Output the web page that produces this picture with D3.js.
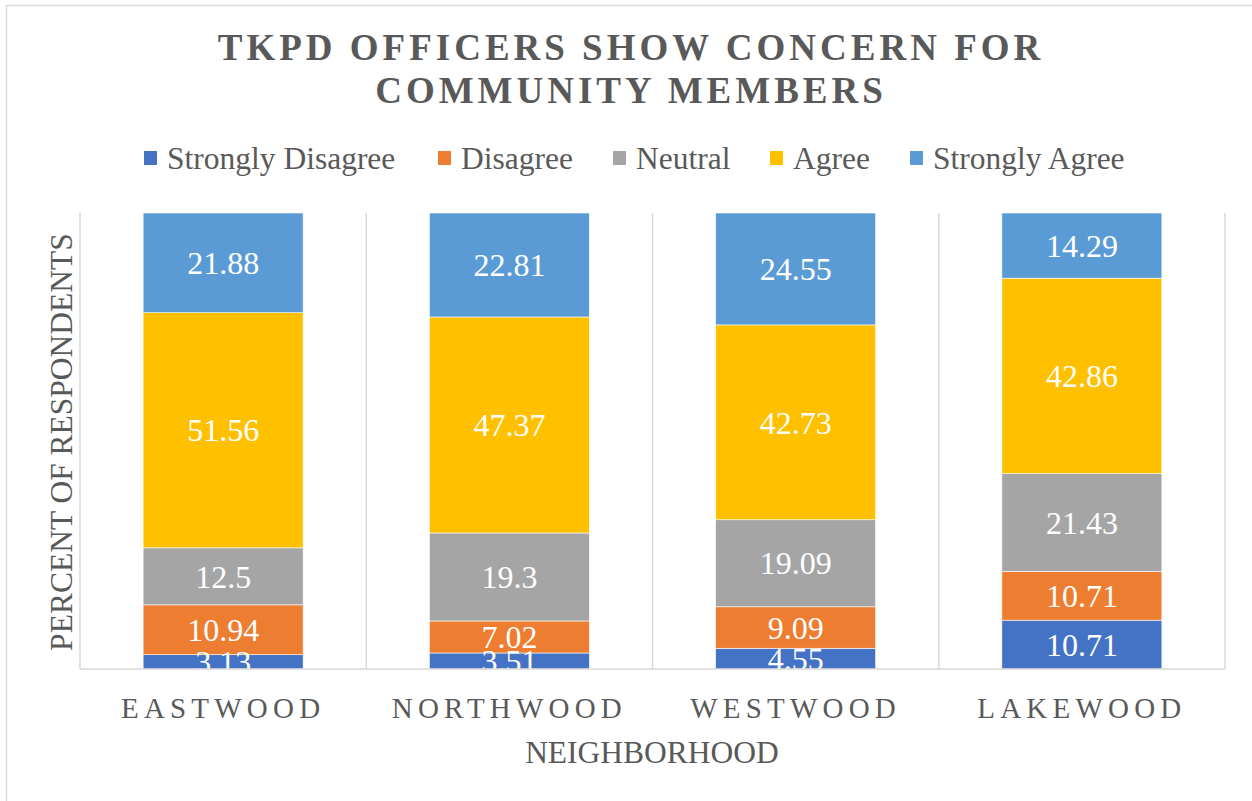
<!DOCTYPE html>
<html>
<head>
<meta charset="utf-8">
<script src="https://cdn.jsdelivr.net/npm/d3@7"></script>
<style>
  html, body { margin: 0; padding: 0; background: #fff; }
  svg { display: block; }
  text { font-family: "Liberation Serif", "Times New Roman", serif; }
</style>
</head>
<body>
<svg id="chart" width="1252" height="801"></svg>
<script>
const categories = ["EASTWOOD", "NORTHWOOD", "WESTWOOD", "LAKEWOOD"];
const seriesNames = ["Strongly Disagree", "Disagree", "Neutral", "Agree", "Strongly Agree"];
const seriesColors = ["#4472C4", "#ED7D31", "#A5A5A5", "#FFC000", "#5B9BD5"];
const stronglyDisagree = [3.13, 3.51, 4.55, 10.71];
const disagree = [10.94, 7.02, 9.09, 10.71];
const neutral = [12.5, 19.3, 19.09, 21.43];
const agree = [51.56, 47.37, 42.73, 42.86];
const stronglyAgree = [21.88, 22.81, 24.55, 14.29];
const yDomain = [0, 100];
const titleLines = ["TKPD OFFICERS SHOW CONCERN FOR", "COMMUNITY MEMBERS"];
const xTitle = "NEIGHBORHOOD";
const yTitle = "PERCENT OF RESPONDENTS";

const seriesValues = [stronglyDisagree, disagree, neutral, agree, stronglyAgree];
const rows = categories.map((c, i) => {
  const r = { cat: c };
  seriesNames.forEach((s, j) => r[s] = seriesValues[j][i]);
  return r;
});

const svg = d3.select("#chart");
const plot = { left: 80, right: 1225, top: 213, bottom: 669 };
const textGray = "#595959";
const serif = "Liberation Serif, Times New Roman, serif";

// chart border
svg.append("rect").attr("x", 6.5).attr("y", 5.5).attr("width", 1400).attr("height", 1000)
  .attr("fill", "#fff").attr("stroke", "#d9d9d9").attr("stroke-width", 1.5);

const x = d3.scaleBand().domain(categories).range([plot.left, plot.right]).padding(0);
const y = d3.scaleLinear().domain(yDomain).range([plot.bottom, plot.top]);
const barW = x.bandwidth() * 0.559;

// vertical gridlines at band boundaries
const bounds = categories.map(c => x(c)).concat([x(categories[categories.length - 1]) + x.bandwidth()]);
svg.append("g").selectAll("line").data(bounds).join("line")
  .attr("x1", d => d).attr("x2", d => d)
  .attr("y1", plot.top).attr("y2", plot.bottom)
  .attr("stroke", "#d9d9d9").attr("stroke-width", 1.5);

// stacked bars
const stack = d3.stack().keys(seriesNames)(rows);
const clipId = "plotclip";
svg.append("defs").append("clipPath").attr("id", clipId)
  .append("rect").attr("x", plot.left).attr("y", plot.top)
  .attr("width", plot.right - plot.left).attr("height", plot.bottom - plot.top);

const gBars = svg.append("g").attr("clip-path", `url(#${clipId})`);
stack.forEach((layer, j) => {
  const g = gBars.append("g").attr("fill", seriesColors[j]);
  g.selectAll("rect").data(layer).join("rect")
    .attr("x", d => x(d.data.cat) + (x.bandwidth() - barW) / 2)
    .attr("width", barW)
    .attr("y", d => y(Math.min(d[1], yDomain[1])))
    .attr("height", d => y(d[0]) - y(Math.min(d[1], yDomain[1])))
    .attr("stroke", "#fff").attr("stroke-width", 0.6);
});
// labels
stack.forEach((layer, j) => {
  gBars.append("g").selectAll("text").data(layer).join("text")
    .attr("x", d => x(d.data.cat) + x.bandwidth() / 2)
    .attr("y", d => (y(d[0]) + y(Math.min(d[1], yDomain[1]))) / 2)
    .attr("dy", "0.35em")
    .attr("text-anchor", "middle")
    .attr("fill", "#fff")
    .attr("font-family", serif)
    .attr("font-size", 32)
    .text(d => String(d.data[seriesNames[j]]));
});

// axis line
svg.append("line").attr("x1", plot.left).attr("x2", plot.right)
  .attr("y1", plot.bottom).attr("y2", plot.bottom)
  .attr("stroke", "#d9d9d9").attr("stroke-width", 1.5);

// x axis labels
const xAxis = d3.axisBottom(x).tickSize(0).tickPadding(0);
const gx = svg.append("g").attr("transform", `translate(0,${plot.bottom})`).call(xAxis);
gx.select(".domain").remove();
gx.selectAll("text")
  .attr("y", 49)
  .attr("dy", 0)
  .attr("font-family", serif)
  .attr("font-size", 29)
  .attr("letter-spacing", "5.2px")
  .attr("fill", textGray);

// axis titles
svg.append("text").attr("x", 652).attr("y", 763)
  .attr("text-anchor", "middle").attr("font-family", serif).attr("font-size", 31.5)
  .attr("fill", textGray).text(xTitle);
svg.append("text").attr("transform", `translate(72,${(232 + 652) / 2}) rotate(-90)`)
  .attr("text-anchor", "middle").attr("font-family", serif).attr("font-size", 31.5)
  .attr("fill", textGray).text(yTitle);

// title
svg.append("g").selectAll("text").data(titleLines).join("text")
  .attr("x", 631).attr("y", (d, i) => 60 + i * 43)
  .attr("text-anchor", "middle").attr("font-family", serif).attr("font-size", 37).attr("font-weight", "bold")
  .attr("letter-spacing", "4px").attr("fill", textGray).text(d => d);

// legend
const legendX = [144, 438, 613, 770, 910];
const lg = svg.append("g").selectAll("g").data(seriesNames).join("g")
  .attr("transform", (d, i) => `translate(${legendX[i]},158)`);
lg.append("rect").attr("x", 0).attr("y", -7).attr("width", 13).attr("height", 14)
  .attr("fill", (d, i) => seriesColors[i]);
lg.append("text").attr("x", 23).attr("dy", "0.35em").attr("font-family", serif).attr("font-size", 31.5)
  .attr("fill", textGray).text(d => d);
</script>
</body>
</html>
